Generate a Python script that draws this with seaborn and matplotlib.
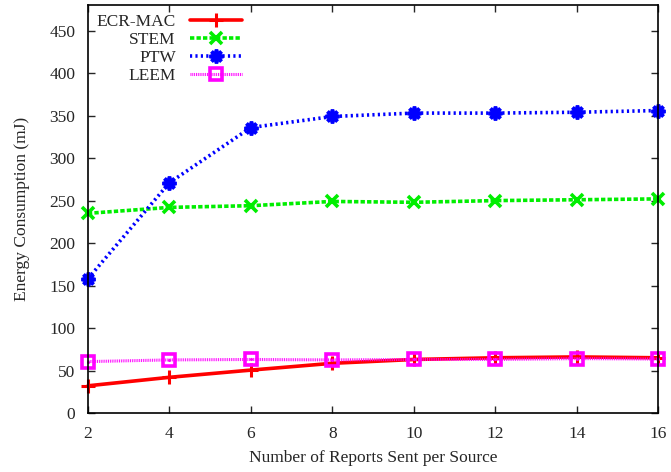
import pandas as pd
import matplotlib
matplotlib.use("Agg")
import matplotlib.pyplot as plt
import seaborn as sns

# --- DATA ---
reports = [2, 4, 6, 8, 10, 12, 14, 16]
ecr_mac = [32, 42, 50.5, 58.5, 63, 65, 66, 65]
stem = [235, 242, 244, 249, 248, 250, 251, 252]
ptw = [158, 271, 336, 349, 353, 353, 354, 356]
leem = [60.5, 62.5, 63, 62.5, 63, 63, 64, 63.5]

series = {"ECR-MAC": ecr_mac, "STEM": stem, "PTW": ptw, "LEEM": leem}

# --- STYLES ---
styles = {
    "ECR-MAC": dict(color="#ff0000", linestyle="-", linewidth=2.6, marker="+",
                    markersize=10, markeredgewidth=2.2),
    "STEM": dict(color="#00ee00", linestyle=(0, (1.2, 0.6)), linewidth=2.6, marker="x",
                 markersize=9, markeredgewidth=2.6),
    "PTW": dict(color="#0000ff", linestyle=(0, (0.6, 0.9)), linewidth=2.6, marker=(8, 2, 0),
                markersize=10, markeredgewidth=2.6),
    "LEEM": dict(color="#ff00ff", linestyle=(0, (0.3, 0.3)), linewidth=2.2, marker="s",
                 markersize=8.5, markeredgewidth=2.6, fillstyle="none"),
}

sns.set_style("white")
plt.rcParams["font.family"] = ["Liberation Serif", "DejaVu Serif"]
plt.rcParams["font.size"] = 12.5

fig = plt.figure(figsize=(6.71, 4.72), dpi=100)
ax = fig.add_axes([0.131, 0.125, 0.850, 0.864])

for name, values in series.items():
    df = pd.DataFrame({"x": reports, "y": values})
    st = styles[name]
    sns.lineplot(data=df, x="x", y="y", ax=ax, label=name,
                 markeredgecolor=st["color"], markerfacecolor="none" if st.get("fillstyle") else st["color"],
                 clip_on=False, zorder=3, **st)

# kleine prikk midt i LEEM-firkantene
sns.scatterplot(x=reports, y=leem, ax=ax, color="#ff00ff", s=5, linewidth=0,
                legend=False, zorder=4, clip_on=False)

ax.set_xlim(2, 16)
ax.set_ylim(0, 480)
ax.set_xticks(reports)
ax.set_yticks(range(0, 451, 50))
ax.set_xlabel("Number of Reports Sent per Source", fontsize=12.5, labelpad=6)
ax.set_ylabel("Energy Consumption (mJ)", fontsize=12.5, labelpad=14)

for spine in ax.spines.values():
    spine.set_visible(True)
    spine.set_color("black")
    spine.set_linewidth(1.2)
    spine.set_zorder(4)
ax.tick_params(direction="in", length=5, width=1, top=True, right=True,
               bottom=True, left=True, labelsize=12.5, pad=9)

ax.legend(loc="upper left", frameon=False, markerfirst=False, handlelength=3.0,
          borderaxespad=0.1, labelspacing=0.1, fontsize=12.5, handletextpad=0.8)

fig.savefig("out.png", dpi=100)
